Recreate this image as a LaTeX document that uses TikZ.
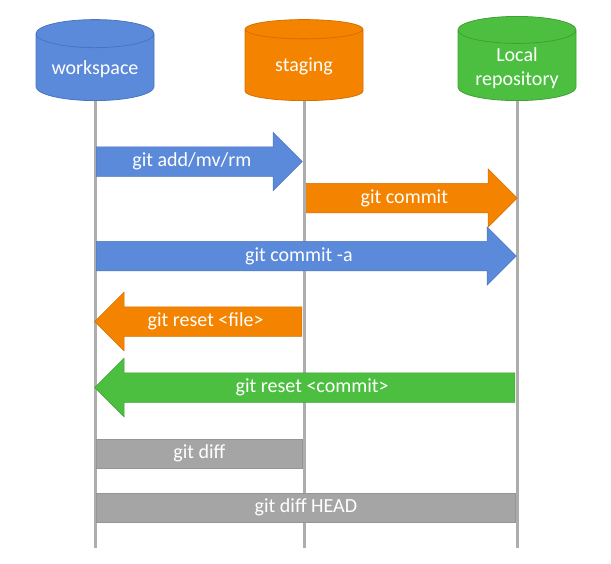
\documentclass[tikz,border=0pt]{standalone}
\usepackage{fontspec}
\setmainfont{Carlito}
\usetikzlibrary{shapes.geometric,shapes.arrows}
\definecolor{wsBlue}{HTML}{5B8ADB}
\definecolor{wsBlueLine}{HTML}{4B74BE}
\definecolor{stOrange}{HTML}{F48300}
\definecolor{stOrangeLine}{HTML}{D46F00}
\definecolor{repoGreen}{HTML}{4DBF40}
\definecolor{repoGreenLine}{HTML}{3FA034}
\definecolor{diffGray}{HTML}{A5A5A5}
\definecolor{diffGrayLine}{HTML}{959595}
\definecolor{laneGray}{HTML}{ADADAD}

\begin{document}
\begin{tikzpicture}[
      x=1pt, y=-1pt,
      store/.style={cylinder, shape border rotate=90, aspect=0.3, minimum width=118pt, minimum height=81pt, draw=#1Line, fill=#1, line width=0.8pt, text=white, align=center, font=\fontsize{20}{24}\selectfont, anchor=south},
      lane/.style={line width=3pt, draw=laneGray},
      bigarrow/.style={single arrow, single arrow head extend=14.5pt, single arrow tip angle=90, text height=14pt, text depth=4pt, inner ysep=5.5pt, inner xsep=4pt, fill=#1, draw=#1Line, line width=0.5pt, text=white, font=\fontsize{20}{24}\selectfont, anchor=tail},
      diffbox/.style={rectangle, minimum height=29pt, fill=diffGray, draw=diffGrayLine, line width=0.8pt, text=white, font=\fontsize{20}{24}\selectfont, anchor=west}
    ]
      \useasboundingbox (0,0) rectangle (611,563);
      % the three stores
      \node[store=wsBlue] (ws) at (95,101) {workspace};
      \node[store=stOrange] (st) at (304,101) {staging};
      \node[store=repoGreen] (lr) at (517,101) {Local\\repository};
      \draw[lane] (ws.south) -- (ws.south |- 0,548);
      \draw[lane] (st.south) -- (st.south |- 0,548);
      \draw[lane] (lr.south) -- (lr.south |- 0,548);
      % commands
      \node[bigarrow=wsBlue, minimum height=206pt] (add) at (96,161.5) {git add/mv/rm};
      \node[bigarrow=stOrange, minimum height=211pt] (commit) at (306,198) {git commit};
      \node[bigarrow=wsBlue, minimum height=420pt] (commitall) at (96,256) {git commit -a};
      \node[bigarrow=stOrange, shape border rotate=180, minimum height=207pt] (resetfile) at (302,321.5) {git reset <file>};
      \node[bigarrow=repoGreen, shape border rotate=180, minimum height=420pt] (resetcommit) at (515,387.5) {git reset <commit>};
      \node[diffbox, minimum width=206pt] (diff) at (96,453.5) {git diff};
      \node[diffbox, minimum width=419pt] (diffhead) at (96,507.5) {git diff HEAD};
    \end{tikzpicture}
\end{document}
